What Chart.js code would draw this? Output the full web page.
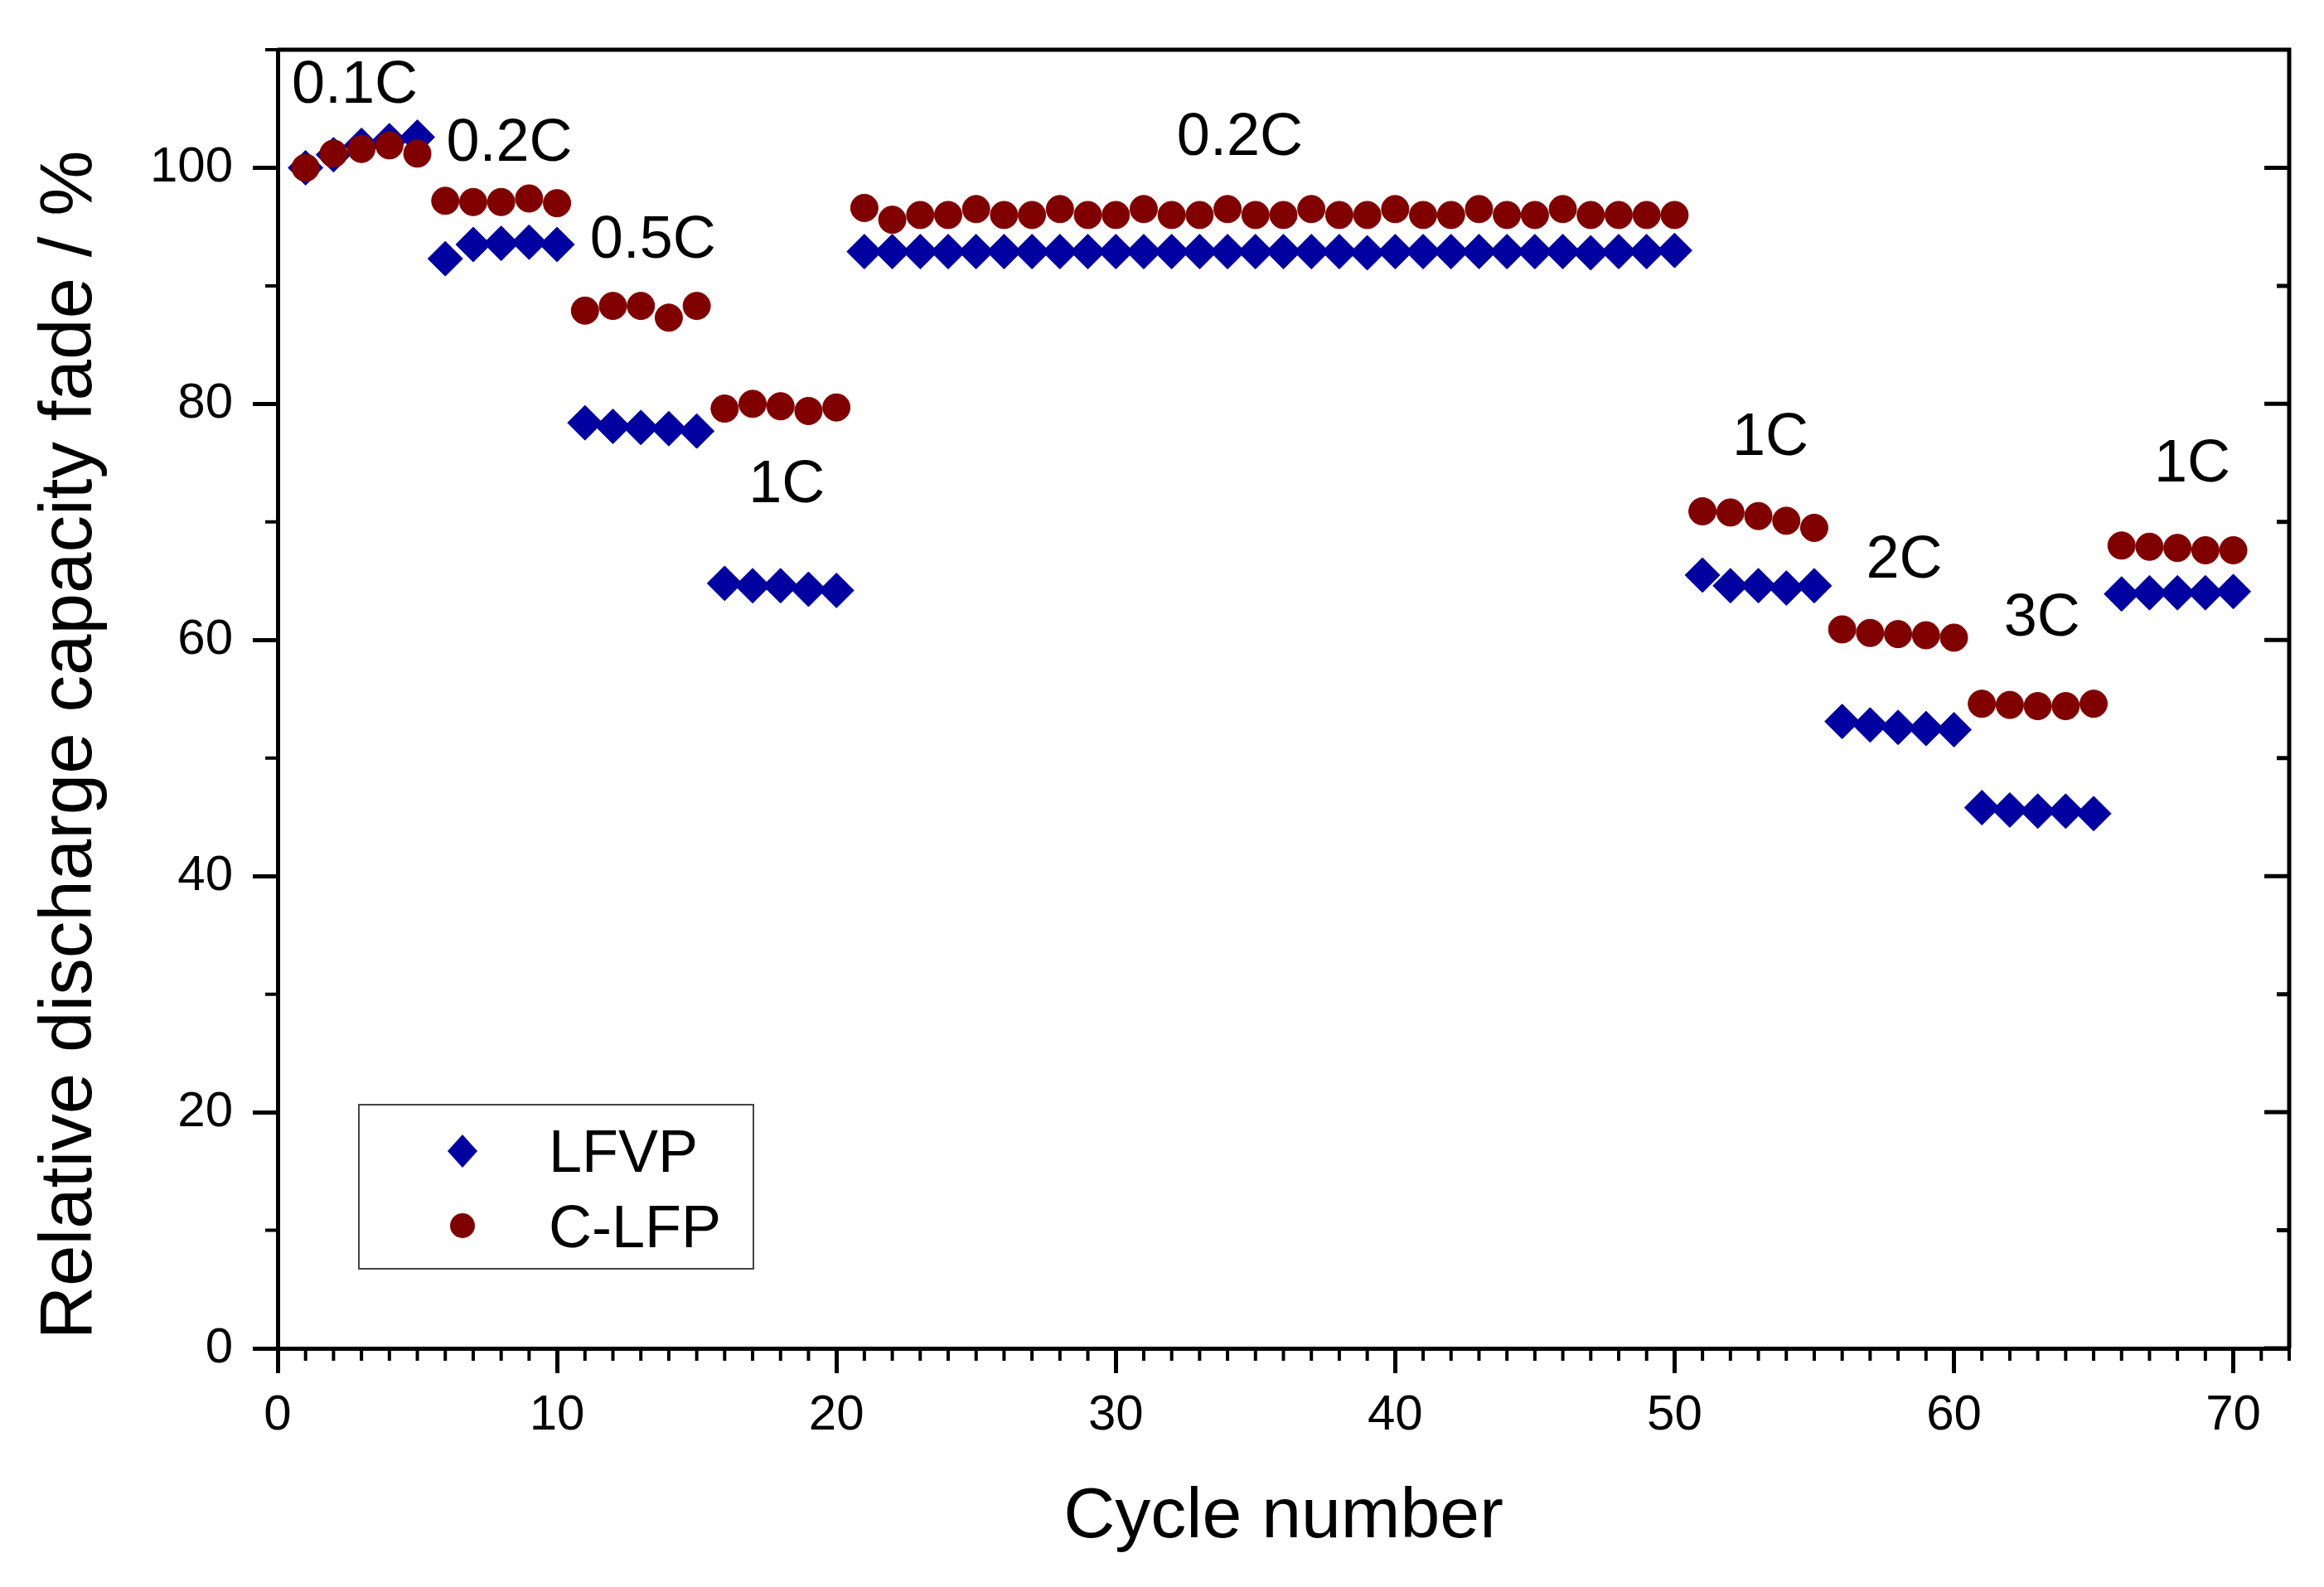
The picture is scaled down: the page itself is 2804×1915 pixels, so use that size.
<!DOCTYPE html>
<html>
<head>
<meta charset="utf-8">
<script src="https://cdn.jsdelivr.net/npm/chart.js@4.4.0/dist/chart.umd.min.js"></script>
<style>
  html, body { margin: 0; padding: 0; background: #fff; }
  canvas { display: block; }
</style>
</head>
<body>
<canvas id="rateChart" width="2804" height="1915" style="width:2804px;height:1915px"></canvas>
<script>
// cycle numbers
const cycles = [
  1, 2, 3, 4, 5, 6, 7, 8, 9, 10,
  11, 12, 13, 14, 15, 16, 17, 18, 19, 20,
  21, 22, 23, 24, 25, 26, 27, 28, 29, 30,
  31, 32, 33, 34, 35, 36, 37, 38, 39, 40,
  41, 42, 43, 44, 45, 46, 47, 48, 49, 50,
  51, 52, 53, 54, 55, 56, 57, 58, 59, 60,
  61, 62, 63, 64, 65, 66, 67, 68, 69, 70
];

// relative discharge capacity, %
const lfvp = [
  100.0, 101.1, 101.9, 102.3, 102.6,
  92.3, 93.5, 93.6, 93.7, 93.5,
  78.4, 78.1, 78.0, 77.9, 77.7,
  64.8, 64.6, 64.6, 64.3, 64.2,
  92.9, 92.9, 92.9, 92.9, 92.9, 92.9, 92.9, 92.9, 92.9, 92.9,
  92.9, 92.9, 92.9, 92.9, 92.9, 92.9, 92.9, 92.9, 92.8, 92.9,
  92.9, 92.9, 92.9, 92.9, 92.9, 92.9, 92.8, 92.9, 92.9, 93.0,
  65.5, 64.6, 64.6, 64.4, 64.6,
  53.1, 52.8, 52.6, 52.5, 52.4,
  45.8, 45.6, 45.5, 45.5, 45.3,
  63.9, 64.0, 64.0, 64.0, 64.1
];

const clfp = [
  100.0, 101.2, 101.6, 101.9, 101.2,
  97.2, 97.1, 97.1, 97.4, 97.0,
  87.9, 88.3, 88.3, 87.3, 88.3,
  79.6, 80.0, 79.8, 79.4, 79.7,
  96.6, 95.6, 96.0, 96.0, 96.5, 96.0, 96.0, 96.5, 96.0, 96.0,
  96.5, 96.0, 96.0, 96.5, 96.0, 96.0, 96.5, 96.0, 96.0, 96.5,
  96.0, 96.0, 96.5, 96.0, 96.0, 96.5, 96.0, 96.0, 96.0, 96.0,
  70.9, 70.8, 70.5, 70.1, 69.5,
  60.9, 60.6, 60.5, 60.4, 60.2,
  54.6, 54.5, 54.4, 54.4, 54.6,
  68.0, 67.9, 67.8, 67.6, 67.6
];

const seriesNames = ['LFVP', 'C-LFP'];

// C-rate labels (centre x, baseline y in data units)
const rateLabels = ['0.1C', '0.2C', '0.5C', '1C', '0.2C', '1C', '2C', '3C', '1C'];
const rateLabelX = [2.76, 8.29, 13.43, 18.22, 34.44, 53.43, 58.22, 63.15, 68.53];
const rateLabelY = [105.5, 100.6, 92.35, 71.7, 101.1, 75.65, 65.25, 60.35, 73.4];

const FONT = "'Liberation Sans', Arial, sans-serif";
const BLUE = '#0000a0';
const RED = '#800000';

function toPoints(values) {
  return cycles.map((c, i) => ({ x: c, y: values[i] }));
}

const framePlugin = {
  id: 'frame',
  afterDraw(chart) {
    const ctx = chart.ctx;
    const a = chart.chartArea;
    const xs = chart.scales.x;
    const ys = chart.scales.y;
    ctx.save();
    ctx.strokeStyle = '#000';

    // top and right border
    ctx.lineWidth = 5;
    ctx.beginPath();
    ctx.moveTo(a.left, a.top);
    ctx.lineTo(a.right, a.top);
    ctx.lineTo(a.right, a.bottom);
    ctx.stroke();

    // minor x ticks
    ctx.lineWidth = 4;
    ctx.beginPath();
    for (let v = 1; v <= 72; v++) {
      if (v % 10 === 0) continue;
      const px = xs.getPixelForValue(v);
      ctx.moveTo(px, a.bottom);
      ctx.lineTo(px, a.bottom + 15);
    }
    // minor y ticks left
    for (let v = 10; v <= 110; v += 20) {
      const py = ys.getPixelForValue(v);
      ctx.moveTo(a.left - 15, py);
      ctx.lineTo(a.left, py);
    }
    ctx.stroke();

    // right axis ticks, pointing inward
    ctx.lineWidth = 5;
    ctx.beginPath();
    for (let v = 0; v <= 100; v += 10) {
      const py = ys.getPixelForValue(v);
      const len = v % 20 === 0 ? 30 : 15;
      ctx.moveTo(a.right - len, py);
      ctx.lineTo(a.right, py);
    }
    ctx.stroke();

    // rate labels
    ctx.fillStyle = '#000';
    ctx.font = '72px ' + FONT;
    ctx.textAlign = 'center';
    ctx.textBaseline = 'alphabetic';
    rateLabels.forEach((t, i) => {
      ctx.fillText(t, xs.getPixelForValue(rateLabelX[i]), ys.getPixelForValue(rateLabelY[i]));
    });

    // y axis title
    ctx.save();
    ctx.translate(85, 899);
    ctx.rotate(-Math.PI / 2);
    ctx.font = '89px ' + FONT;
    ctx.textAlign = 'center';
    ctx.textBaseline = 'middle';
    ctx.fillText('Relative discharge capacity fade / %', 0, 0);
    ctx.restore();

    // legend box
    const lx = a.left + 98, ly = a.top + 1273;
    ctx.lineWidth = 2;
    ctx.strokeStyle = '#444';
    ctx.strokeRect(lx, ly, 476, 198);

    ctx.fillStyle = BLUE;
    ctx.beginPath();
    ctx.moveTo(lx + 125, ly + 56 - 20);
    ctx.lineTo(lx + 125 + 18, ly + 56);
    ctx.lineTo(lx + 125, ly + 56 + 20);
    ctx.lineTo(lx + 125 - 18, ly + 56);
    ctx.closePath();
    ctx.fill();

    ctx.fillStyle = RED;
    ctx.beginPath();
    ctx.arc(lx + 125, ly + 146, 15, 0, Math.PI * 2);
    ctx.fill();

    ctx.fillStyle = '#000';
    ctx.font = '72px ' + FONT;
    ctx.textAlign = 'left';
    ctx.textBaseline = 'alphabetic';
    ctx.fillText(seriesNames[0], lx + 229, ly + 81);
    ctx.fillText(seriesNames[1], lx + 229, ly + 172);
    ctx.restore();
  }
};

const ctx = document.getElementById('rateChart').getContext('2d');
new Chart(ctx, {
  type: 'scatter',
  data: {
    datasets: [
      {
        label: seriesNames[0],
        data: toPoints(lfvp),
        pointStyle: 'rectRot',
        pointRadius: 21,
        backgroundColor: BLUE,
        borderColor: BLUE,
        borderWidth: 1,
        order: 1
      },
      {
        label: seriesNames[1],
        data: toPoints(clfp),
        pointStyle: 'circle',
        pointRadius: 16.5,
        backgroundColor: RED,
        borderColor: RED,
        borderWidth: 1,
        order: 0
      }
    ]
  },
  options: {
    responsive: false,
    devicePixelRatio: 1,
    animation: false,
    layout: { padding: { top: 57, right: 42, left: 0, bottom: 0 } },
    plugins: {
      legend: { display: false },
      tooltip: { enabled: false }
    },
    scales: {
      x: {
        type: 'linear',
        min: 0,
        max: 72,
        afterFit: (scale) => { scale.height = 288; },
        ticks: {
          stepSize: 10,
          includeBounds: false,
          maxRotation: 0,
          padding: 15,
          color: '#000',
          font: { family: FONT, size: 60 }
        },
        grid: {
          drawOnChartArea: false,
          drawTicks: true,
          tickLength: 30,
          tickWidth: 5,
          tickColor: '#000'
        },
        border: { display: true, width: 5, color: '#000' },
        title: {
          display: true,
          text: 'Cycle number',
          color: '#000',
          font: { family: FONT, size: 86 },
          padding: { top: 0, bottom: 32 }
        }
      },
      y: {
        type: 'linear',
        min: 0,
        max: 110,
        afterFit: (scale) => { scale.width = 335; },
        ticks: {
          stepSize: 20,
          includeBounds: false,
          padding: 24,
          color: '#000',
          font: { family: FONT, size: 60 }
        },
        grid: {
          drawOnChartArea: false,
          drawTicks: true,
          tickLength: 30,
          tickWidth: 5,
          tickColor: '#000'
        },
        border: { display: true, width: 5, color: '#000' }
      }
    }
  },
  plugins: [framePlugin]
});
</script>
</body>
</html>
